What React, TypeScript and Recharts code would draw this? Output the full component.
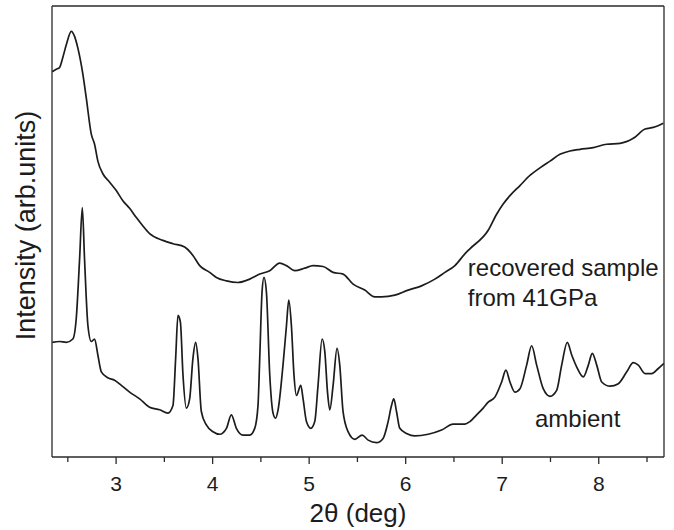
import React from 'react';
import { LineChart, Line, XAxis, YAxis, ReferenceDot, Label } from 'recharts';

// ---- data (2θ in degrees, intensity in arbitrary units) ----
const recoveredTheta = [
  2.338, 2.38, 2.414, 2.448, 2.484, 2.536, 2.57, 2.604, 2.656, 2.691, 2.743, 2.777, 2.811, 2.863,
  2.933, 3.002, 3.07, 3.14, 3.21, 3.278, 3.347, 3.485, 3.589, 3.71, 3.796, 3.866, 3.969, 4.039,
  4.143, 4.263, 4.384, 4.488, 4.592, 4.695, 4.765, 4.851, 4.954, 5.04, 5.144, 5.248, 5.351, 5.455,
  5.576, 5.68, 5.75, 5.888, 6.025, 6.164, 6.302, 6.406, 6.51, 6.613, 6.665, 6.855, 6.942, 7.01,
  7.08, 7.184, 7.287, 7.391, 7.495, 7.598, 7.702, 7.806, 7.944, 8.082, 8.22, 8.358, 8.48, 8.566,
  8.669,
];
const recoveredIntensity = [
  4.22, 4.25, 4.27, 4.39, 4.54, 4.70, 4.64, 4.50, 4.19, 3.91, 3.48, 3.36, 3.16, 3.01,
  2.91, 2.81, 2.69, 2.60, 2.49, 2.39, 2.30, 2.22, 2.18, 2.14, 2.04, 1.92, 1.84, 1.78,
  1.74, 1.72, 1.76, 1.82, 1.86, 1.95, 1.92, 1.86, 1.89, 1.92, 1.91, 1.84, 1.82, 1.70,
  1.63, 1.55, 1.55, 1.57, 1.63, 1.68, 1.76, 1.84, 1.92, 2.06, 2.12, 2.34, 2.53, 2.65,
  2.75, 2.87, 2.99, 3.08, 3.16, 3.24, 3.28, 3.30, 3.32, 3.36, 3.37, 3.43, 3.54, 3.56,
  3.61,
];

const ambientTheta = [
  2.338, 2.414, 2.484, 2.552, 2.587, 2.622, 2.65, 2.673, 2.708, 2.743, 2.777, 2.811, 2.847, 2.915,
  2.984, 3.054, 3.14, 3.244, 3.347, 3.451, 3.537, 3.589, 3.617, 3.641, 3.666, 3.693, 3.728, 3.762,
  3.796, 3.824, 3.848, 3.883, 3.935, 4.004, 4.073, 4.143, 4.194, 4.246, 4.315, 4.384, 4.436, 4.47,
  4.488, 4.512, 4.532, 4.557, 4.592, 4.626, 4.651, 4.678, 4.729, 4.765, 4.789, 4.816, 4.843, 4.868,
  4.913, 4.937, 4.972, 5.017, 5.058, 5.092, 5.134, 5.162, 5.19, 5.214, 5.248, 5.289, 5.317, 5.351,
  5.403, 5.473, 5.549, 5.611, 5.698, 5.766, 5.818, 5.853, 5.877, 5.905, 5.939, 6.009, 6.095, 6.233,
  6.372, 6.492, 6.613, 6.665, 6.735, 6.803, 6.855, 6.924, 6.994, 7.038, 7.08, 7.132, 7.184, 7.253,
  7.305, 7.357, 7.425, 7.495, 7.564, 7.616, 7.674, 7.72, 7.771, 7.84, 7.892, 7.933, 7.979, 8.031,
  8.117, 8.203, 8.29, 8.358, 8.41, 8.48, 8.549, 8.617, 8.676,
];
const ambientIntensity = [
  1.01, 1.02, 1.01, 1.05, 1.29, 2.00, 2.61, 2.00, 1.21, 1.02, 1.05, 0.86, 0.66, 0.59,
  0.56, 0.50, 0.42, 0.34, 0.24, 0.21, 0.17, 0.26, 0.82, 1.33, 1.25, 0.62, 0.23, 0.34,
  0.82, 1.01, 0.82, 0.19, 0.03, -0.05, -0.08, -0.01, 0.15, -0.01, -0.09, -0.09, -0.01, 0.26,
  0.82, 1.61, 1.78, 1.61, 0.62, 0.17, 0.11, 0.21, 0.74, 1.21, 1.51, 1.21, 0.62, 0.38,
  0.50, 0.34, 0.07, -0.01, 0.07, 0.50, 1.05, 0.90, 0.42, 0.21, 0.50, 0.94, 0.74, 0.19,
  -0.05, -0.14, -0.09, -0.15, -0.18, -0.13, 0.07, 0.26, 0.34, 0.19, -0.01, -0.07, -0.10, -0.08,
  -0.03, 0.04, 0.04, 0.07, 0.15, 0.23, 0.30, 0.36, 0.54, 0.68, 0.54, 0.42, 0.46, 0.74,
  0.97, 0.74, 0.46, 0.37, 0.44, 0.74, 1.01, 0.86, 0.72, 0.60, 0.74, 0.88, 0.74, 0.54,
  0.49, 0.52, 0.66, 0.77, 0.74, 0.64, 0.64, 0.70, 0.76,
];

const xTicks = [2.5, 3, 3.5, 4, 4.5, 5, 5.5, 6, 6.5, 7, 7.5, 8, 8.5];
const yTicks = [0, 1, 2, 3, 4, 5];
const xDomain: [number, number] = [2.336, 8.676];
const yDomain: [number, number] = [-0.35, 5];

const xTitle = '2θ (deg)';
const yTitle = 'Intensity (arb.units)';
const recoveredLabel = ['recovered sample', 'from 41GPa'];
const ambientLabel = 'ambient';

const recoveredData = recoveredTheta.map((x, i) => ({ x, y: recoveredIntensity[i] }));
const ambientData = ambientTheta.map((x, i) => ({ x, y: ambientIntensity[i] }));

const FONT = '"Liberation Sans", Arial, Helvetica, sans-serif';
const INK = '#1c1c1c';
const FRAME = '#2a2a2a';

const BottomTick = (props: any) => {
  const { x, y, payload } = props;
  const major = Number.isInteger(payload.value);
  return (
    <g>
      <line x1={x} x2={x} y1={y} y2={y + (major ? 7 : 5)} stroke={FRAME} strokeWidth={1.3} />
      {major && (
        <text x={x} y={y + 34} textAnchor="middle" fontSize={21} fontFamily={FONT} fill={INK}>
          {payload.value}
        </text>
      )}
    </g>
  );
};

const XTitle = (props: any) => {
  const vb = props.viewBox;
  return (
    <text x={vb.x + vb.width / 2} y={vb.y + 65} textAnchor="middle" fontSize={26} fontFamily={FONT} fill={INK}>
      {xTitle}
    </text>
  );
};

const YTitle = (props: any) => {
  const vb = props.viewBox;
  const cx = vb.x + vb.width - 17;
  const cy = vb.y + vb.height / 2 - 6;
  return (
    <text x={cx} y={cy} transform={`rotate(-90 ${cx} ${cy})`} textAnchor="middle" fontSize={27} fontFamily={FONT} fill={INK}>
      {yTitle}
    </text>
  );
};

const makeNote = (lines: string[]) => (props: any) => {
  const vb = props.viewBox;
  return (
    <text x={vb.x} y={vb.y} fontSize={24} fontFamily={FONT} fill={INK}>
      {lines.map((t, i) => (
        <tspan key={i} x={vb.x} dy={i === 0 ? 0 : 30}>
          {t}
        </tspan>
      ))}
    </text>
  );
};

export default function App() {
  return (
    <div style={{ position: 'absolute', left: 0, top: 0, width: 674, height: 530, background: '#fff' }}>
      <LineChart width={674} height={530} margin={{ top: 1, right: 5, bottom: 43, left: 32 }}>
        <XAxis
          xAxisId={0}
          dataKey="x"
          type="number"
          domain={xDomain}
          allowDataOverflow
          ticks={xTicks}
          interval={0}
          height={30}
          tickSize={0}
          tickMargin={0}
          tickLine={false}
          tick={<BottomTick />}
          axisLine={{ stroke: FRAME, strokeWidth: 1.3 }}
        >
          <Label content={<XTitle />} />
        </XAxis>
        <XAxis
          xAxisId="top"
          orientation="top"
          dataKey="x"
          type="number"
          domain={xDomain}
          allowDataOverflow
          ticks={xTicks}
          interval={0}
          height={5}
          tickSize={-3}
          tickMargin={0}
          tick={false}
          tickLine={{ stroke: FRAME, strokeWidth: 1.2 }}
          axisLine={{ stroke: FRAME, strokeWidth: 1.3 }}
        />
        <YAxis
          yAxisId={0}
          type="number"
          domain={yDomain}
          allowDataOverflow
          ticks={yTicks}
          interval={0}
          width={20}
          tickSize={-4}
          tickMargin={0}
          tick={false}
          tickLine={{ stroke: FRAME, strokeWidth: 1.2 }}
          axisLine={{ stroke: FRAME, strokeWidth: 1.3 }}
        >
          <Label content={<YTitle />} />
        </YAxis>
        <YAxis
          yAxisId="right"
          orientation="right"
          type="number"
          domain={yDomain}
          allowDataOverflow
          ticks={yTicks}
          interval={0}
          width={5}
          tickSize={-4}
          tickMargin={0}
          tick={false}
          tickLine={{ stroke: FRAME, strokeWidth: 1.2 }}
          axisLine={{ stroke: FRAME, strokeWidth: 1.3 }}
        />
        <Line
          data={recoveredData}
          dataKey="y"
          type="monotone"
          dot={false}
          stroke={INK}
          strokeWidth={1.7}
          isAnimationActive={false}
        />
        <Line
          data={ambientData}
          dataKey="y"
          type="monotone"
          dot={false}
          stroke={INK}
          strokeWidth={1.7}
          isAnimationActive={false}
        />
        <ReferenceDot x={6.644} y={1.8} r={0} fill="none" stroke="none" label={makeNote(recoveredLabel)} />
        <ReferenceDot x={7.339} y={0.007} r={0} fill="none" stroke="none" label={makeNote([ambientLabel])} />
      </LineChart>
    </div>
  );
}
